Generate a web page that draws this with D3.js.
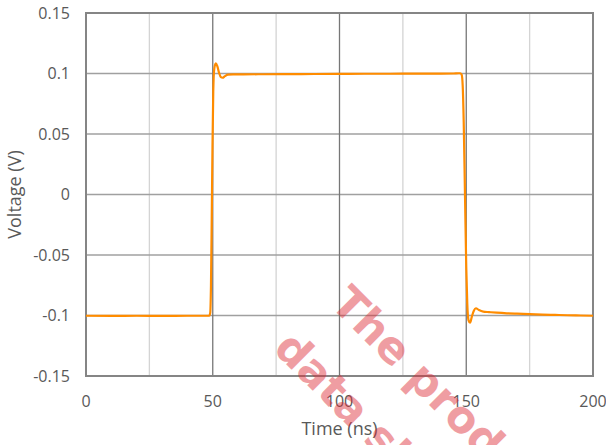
<!DOCTYPE html>
<html>
<head>
<meta charset="utf-8">
<script src="https://cdn.jsdelivr.net/npm/d3@7"></script>
<style>
  body { margin: 0; background: #fff; }
  svg { display: block; }
</style>
</head>
<body>
<div id="chart"></div>
<script>
// pulse response
var timeNs = [0, 10, 20, 30, 40, 48, 48.6, 49.0, 49.3, 49.6, 49.9, 50.2, 50.6, 51.2, 51.8,
  52.5, 53.2, 53.9, 54.8, 56, 58, 62, 70, 80, 90, 100, 110, 120, 130, 140, 145, 147,
  147.6, 148.2, 148.6, 149.0, 149.5, 150.0, 150.4, 150.9, 151.5, 152.2, 153.0, 153.8,
  155, 156.7, 159, 162, 166, 170, 175, 180, 185, 190, 195, 200];
var voltage = [-0.1002, -0.1003, -0.1002, -0.1003, -0.1002, -0.1002, -0.1002, -0.098, -0.075,
  -0.02, 0.04, 0.085, 0.104, 0.1084, 0.106,
  0.1005, 0.097, 0.0965, 0.0978, 0.0990, 0.0992, 0.0993, 0.0994, 0.0995, 0.0996, 0.0997,
  0.0998, 0.0998, 0.0999, 0.0999, 0.1000, 0.1002,
  0.1002, 0.099, 0.09, 0.06, 0.0, -0.06, -0.09, -0.104, -0.106, -0.101, -0.096, -0.094,
  -0.0955, -0.0968, -0.0972, -0.0977, -0.0982, -0.0985, -0.0988, -0.0992, -0.0995,
  -0.0998, -0.1000, -0.1002];

var xTicks = [0, 50, 100, 150, 200];
var xMinor = [25, 75, 125, 175];
var yTicks = [-0.15, -0.1, -0.05, 0, 0.05, 0.1, 0.15];
var yLabels = ["-0.15", "-0.1", "-0.05", "0", "0.05", "0.1", "0.15"];
var watermark = ["The product", "data sheet"];

var width = 606, height = 445;
var margin = {top: 13, right: 13, bottom: 69, left: 86};
var w = width - margin.left - margin.right;
var h = height - margin.top - margin.bottom;

var x = d3.scaleLinear().domain([0, 200]).range([0, w]);
var y = d3.scaleLinear().domain([-0.15, 0.15]).range([h, 0]);

var svg = d3.select("#chart").append("svg")
    .attr("width", width)
    .attr("height", height);

var g = svg.append("g")
    .attr("transform", "translate(" + margin.left + "," + margin.top + ")");

// minor vertical grid
g.selectAll(".minor")
    .data(xMinor)
  .enter().append("line")
    .attr("x1", d => x(d)).attr("x2", d => x(d))
    .attr("y1", 0).attr("y2", h)
    .style("stroke", "#d4d4d4")
    .style("stroke-width", 1.3);

// horizontal grid
g.selectAll(".hgrid")
    .data(yTicks)
  .enter().append("line")
    .attr("x1", 0).attr("x2", w)
    .attr("y1", d => y(d)).attr("y2", d => y(d))
    .style("stroke", "#a0a0a0")
    .style("stroke-width", 1.3);

// major vertical grid
g.selectAll(".vgrid")
    .data(xTicks)
  .enter().append("line")
    .attr("x1", d => x(d)).attr("x2", d => x(d))
    .attr("y1", 0).attr("y2", h)
    .style("stroke", "#777")
    .style("stroke-width", 1.3);

// frame
g.append("rect")
    .attr("width", w)
    .attr("height", h)
    .style("fill", "none")
    .style("stroke", "#858585")
    .style("stroke-width", 2);

var line = d3.line()
    .x((d, i) => x(timeNs[i]))
    .y(d => y(d))
    .curve(d3.curveMonotoneX);

g.append("path")
    .datum(voltage)
    .attr("d", line)
    .style("fill", "none")
    .style("stroke", "#ff8c00")
    .style("stroke-width", 2.2)
    .style("stroke-linejoin", "round");

// tick labels
g.selectAll(".ylab")
    .data(yTicks)
  .enter().append("text")
    .attr("x", -16)
    .attr("y", d => y(d))
    .attr("dy", "0.35em")
    .attr("text-anchor", "end")
    .style("font-family", "'Open Sans', sans-serif")
    .style("font-size", "16px")
    .style("fill", "#595959")
    .text((d, i) => yLabels[i]);

g.selectAll(".xlab")
    .data(xTicks)
  .enter().append("text")
    .attr("x", d => x(d))
    .attr("y", h + 31)
    .attr("text-anchor", "middle")
    .style("font-family", "'Open Sans', sans-serif")
    .style("font-size", "16px")
    .style("fill", "#595959")
    .text(d => d);

// axis titles
svg.append("text")
    .attr("x", margin.left + w / 2)
    .attr("y", 435)
    .attr("text-anchor", "middle")
    .style("font-family", "'Open Sans', sans-serif")
    .style("font-size", "18px")
    .style("fill", "#595959")
    .text("Time (ns)");

svg.append("text")
    .attr("transform", "translate(21," + (margin.top + h / 2) + ") rotate(-90)")
    .attr("text-anchor", "middle")
    .style("font-family", "'Open Sans', sans-serif")
    .style("font-size", "18px")
    .style("fill", "#595959")
    .text("Voltage (V)");

// watermark
var wm = svg.append("g")
    .style("font-family", "'DejaVu Sans', sans-serif")
    .style("font-weight", "bold")
    .style("font-size", "44px")
    .style("fill", "rgb(220,40,50)")
    .style("opacity", 0.45);

wm.append("text")
    .attr("transform", "translate(329,305) rotate(45)")
    .text(watermark[0]);
wm.append("text")
    .attr("transform", "translate(272,350) rotate(45)")
    .text(watermark[1]);
</script>
</body>
</html>
